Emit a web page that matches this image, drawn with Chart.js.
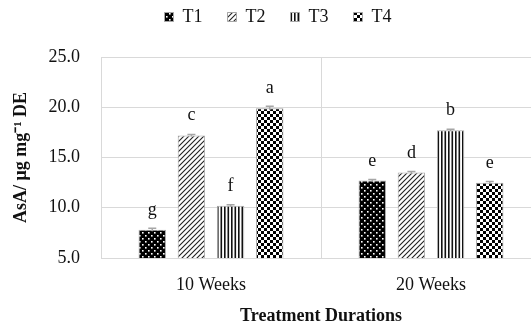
<!DOCTYPE html>
<html>
<head>
<meta charset="utf-8">
<script src="https://cdn.jsdelivr.net/npm/chart.js@4"></script>
<style>
  html, body { margin: 0; padding: 0; overflow: hidden; background: #fff; }
  #wrap { width: 541px; height: 326px; position: relative; }
</style>
</head>
<body>
<div id="wrap"><canvas id="c"></canvas></div>
<script>
// data
const categories = ['10 Weeks', '20 Weeks'];
const seriesNames = ['T1', 'T2', 'T3', 'T4'];
const t1 = [7.8, 12.7];
const t2 = [17.2, 13.5];
const t3 = [10.2, 17.7];
const t4 = [19.9, 12.5];
const t1Err = [0.15, 0.1];
const t2Err = [0.1, 0.1];
const t3Err = [0.1, 0.1];
const t4Err = [0.2, 0.1];
const t1Letters = ['g', 'e'];
const t2Letters = ['c', 'd'];
const t3Letters = ['f', 'b'];
const t4Letters = ['a', 'e'];
const yTicks = [5, 10, 15, 20, 25];

const FONT = '"Liberation Serif", "Times New Roman", serif';
Chart.defaults.font.family = FONT;
Chart.defaults.color = '#111';

function makePattern(kind) {
  const c = document.createElement('canvas');
  const g = c.getContext('2d');
  if (kind === 'dots') {
    c.width = 6; c.height = 6;
    g.fillStyle = '#000'; g.fillRect(0, 0, 6, 6);
    g.fillStyle = '#fff';
    g.fillRect(1, 1, 1.6, 1.6);
    g.fillRect(4, 4, 1.6, 1.6);
  } else if (kind === 'diag') {
    c.width = 5; c.height = 5;
    g.fillStyle = '#fff'; g.fillRect(0, 0, 5, 5);
    g.strokeStyle = '#222'; g.lineWidth = 1.1;
    g.beginPath();
    g.moveTo(-1, 6); g.lineTo(6, -1);
    g.moveTo(-1, 1); g.lineTo(1, -1);
    g.moveTo(4, 6); g.lineTo(6, 4);
    g.stroke();
  } else if (kind === 'vert') {
    c.width = 7; c.height = 2;
    g.fillStyle = '#fff'; g.fillRect(0, 0, 7, 2);
    g.fillStyle = '#111';
    g.fillRect(0, 0, 1.6, 2);
    g.fillRect(3.5, 0, 1.6, 2);
  } else {
    c.width = 6; c.height = 6;
    g.fillStyle = '#fff'; g.fillRect(0, 0, 6, 6);
    g.fillStyle = '#000';
    g.fillRect(0, 0, 3, 3);
    g.fillRect(3, 3, 3, 3);
  }
  return g.createPattern(c, 'repeat');
}

const patterns = [makePattern('dots'), makePattern('diag'), makePattern('vert'), makePattern('check')];
const values = [t1, t2, t3, t4];
const errors = [t1Err, t2Err, t3Err, t4Err];
const letters = [t1Letters, t2Letters, t3Letters, t4Letters];

// error caps and significance letters drawn from the bar elements
const annotations = {
  id: 'annotations',
  afterDatasetsDraw(chart) {
    const ctx = chart.ctx;
    const y = chart.scales.y;
    ctx.save();
    chart.data.datasets.forEach((ds, i) => {
      chart.getDatasetMeta(i).data.forEach((bar, j) => {
        const v = ds.data[j];
        const e = errors[i][j];
        const yHi = y.getPixelForValue(v + e);
        const yLo = y.getPixelForValue(v - e);
        ctx.strokeStyle = '#a6a6a6';
        ctx.lineWidth = 1.5;
        ctx.beginPath();
        ctx.moveTo(bar.x, yHi); ctx.lineTo(bar.x, yLo);
        ctx.moveTo(bar.x - 4, yHi); ctx.lineTo(bar.x + 4, yHi);
        ctx.stroke();
        ctx.fillStyle = '#111';
        ctx.font = '18px ' + FONT;
        ctx.textAlign = 'center';
        ctx.textBaseline = 'alphabetic';
        ctx.fillText(letters[i][j], bar.x, bar.y - 15);
      });
    });
    ctx.restore();
  }
};

// fixed legend box height, and lift the legend to the top row
const legendPlace = {
  id: 'legendPlace',
  beforeInit(chart) {
    const legend = chart.legend;
    const fit = legend.fit;
    legend.fit = function () {
      fit.call(this);
      this.height = 57;
    };
  },
  afterLayout(chart) {
    chart.legend.top = -17;
    chart.legend.left = 15;
  }
};

new Chart(document.getElementById('c'), {
  type: 'bar',
  data: {
    labels: categories,
    datasets: seriesNames.map((name, i) => ({
      label: name,
      data: values[i],
      backgroundColor: patterns[i],
      borderColor: '#a6a6a6',
      borderWidth: 1,
      categoryPercentage: 0.712,
      barPercentage: 0.7
    }))
  },
  options: {
    responsive: true,
    maintainAspectRatio: false,
    animation: false,
    layout: { padding: { left: 0, right: 0, top: 0, bottom: 0 } },
    plugins: {
      tooltip: { enabled: false },
      legend: {
        position: 'top',
        labels: {
          boxWidth: 9,
          boxHeight: 9,
          padding: 25,
          font: { size: 18 },
          color: '#111'
        }
      }
    },
    scales: {
      x: {
        grid: { color: '#d9d9d9', drawTicks: false, lineWidth: 1 },
        border: { color: '#d9d9d9' },
        ticks: { padding: 16, font: { size: 18 }, color: '#111' },
        title: {
          display: true,
          text: 'Treatment Durations',
          font: { size: 18, weight: 'bold' },
          color: '#111',
          padding: { top: 0, bottom: -1 }
        },
        afterFit(scale) { scale.height = 68; }
      },
      y: {
        min: 5,
        max: 25,
        grid: { color: '#d9d9d9', drawTicks: false },
        border: { display: false },
        afterBuildTicks(scale) { scale.ticks = yTicks.map(v => ({ value: v })); },
        ticks: {
          padding: 21,
          font: { size: 18 },
          color: '#111',
          callback: v => Number(v).toFixed(1)
        },
        title: {
          display: true,
          text: 'AsA/ μg mg⁻¹ DE',
          font: { size: 18, weight: 'bold' },
          color: '#111',
          padding: { top: 11, bottom: 0 }
        },
        afterFit(scale) { scale.width = 101; }
      }
    }
  },
  plugins: [annotations, legendPlace]
});
</script>
</body>
</html>
